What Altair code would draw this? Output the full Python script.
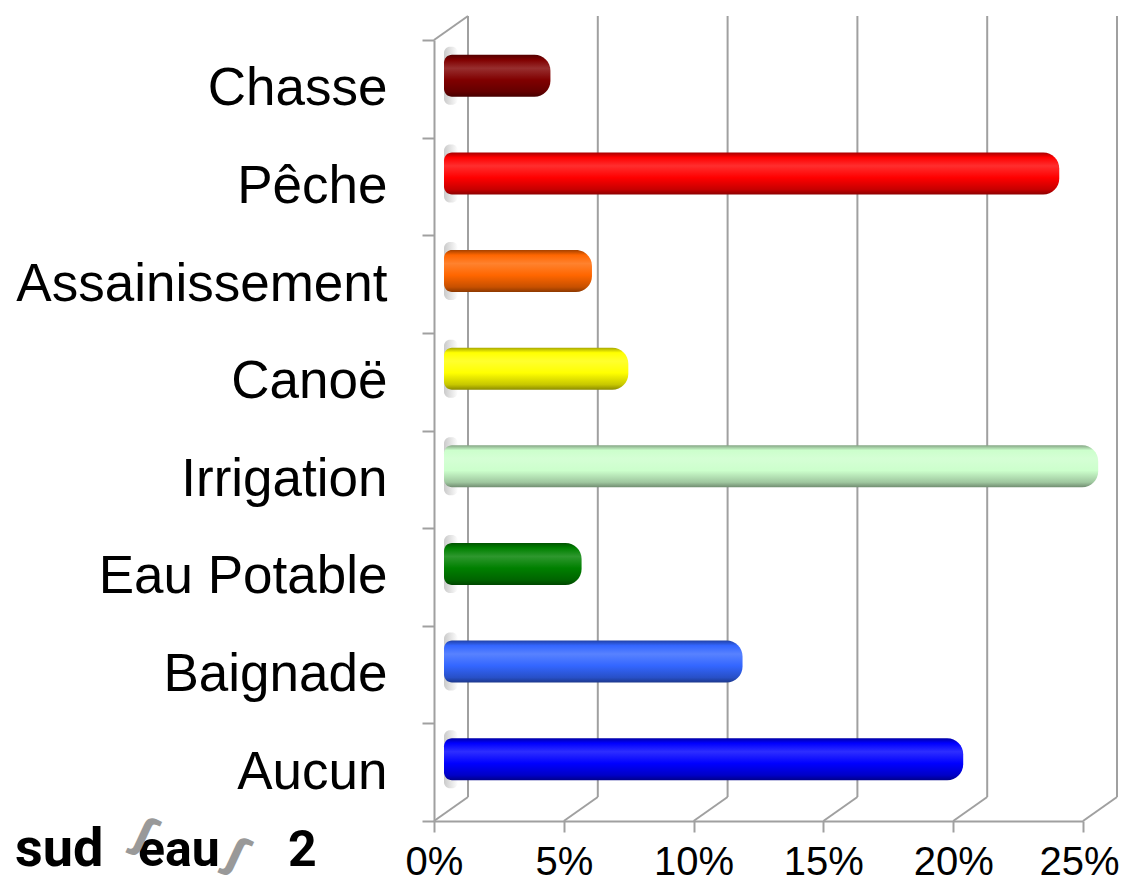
import altair as alt
import pandas as pd

# ---- data ----
categories = ["Chasse", "Pêche", "Assainissement", "Canoë", "Irrigation",
              "Eau Potable", "Baignade", "Aucun"]
values = [4.1, 23.7, 5.7, 7.1, 25.2, 5.3, 11.5, 20.0]
colors = ["#800000", "#ff0000", "#ff6600", "#ffff00", "#ccffcc",
          "#008000", "#3366ff", "#0000ff"]
tick_values = [0, 5, 10, 15, 20, 25]
logo_parts = ["sud", "eau", "2"]
logo_mark = "ʃ"

# ---- geometry / style ----
W, H = 649, 781          # plot area (front plane)
DX, DY = 34, -24         # depth offset of the back wall
BAR_SHIFT = 10           # bars sit slightly behind the front plane
GRID = "#a0a0a0"


def mix(hex_color, target, t):
    h = hex_color.lstrip("#")
    r, g, b = (int(h[i:i + 2], 16) for i in (0, 2, 4))
    tr, tg, tb = target
    r = round(r + (tr - r) * t)
    g = round(g + (tg - g) * t)
    b = round(b + (tb - b) * t)
    return f"#{r:02x}{g:02x}{b:02x}"


def dark(c, t):
    return mix(c, (0, 0, 0), t)


def light(c, t):
    return mix(c, (255, 255, 255), t)


df = pd.DataFrame({"cat": categories, "val": values})
tick_df = pd.DataFrame({"t": tick_values})
one = pd.DataFrame({"k": [0]})

xscale = alt.Scale(domain=[0, 25], nice=False, zero=True)
bar_xscale = alt.Scale(domain=[0, 25], nice=False, zero=True,
                       range=[BAR_SHIFT, W + BAR_SHIFT])
yscale = alt.Scale(domain=categories, paddingInner=0, paddingOuter=0)

x_axis = alt.Axis(values=tick_values, labelExpr="datum.value + '%'", title=None,
                  grid=False, domainColor=GRID, domainWidth=2, tickColor=GRID,
                  tickWidth=2, tickSize=11, labelFontSize=40,
                  labelFont="Liberation Sans", labelColor="#000000",
                  labelPadding=10, labelFlush=False,
                  labelOffset=alt.ExprRef("datum.value == 25 ? -4 : 0"))
y_axis = alt.Axis(title=None, domainColor=GRID, domainWidth=2, tickColor=GRID,
                  tickWidth=2, tickSize=12, tickBand="extent", labelFontSize=53,
                  labelFont="Liberation Sans", labelColor="#000000",
                  labelPadding=35, labelLimit=600, grid=False)

# back wall vertical grid lines (carries the x axis)
grid = alt.Chart(tick_df).mark_rule(color=GRID, strokeWidth=2, xOffset=DX).encode(
    x=alt.X("t:Q", scale=xscale, axis=x_axis),
    y=alt.value(DY), y2=alt.value(H + DY))

# floor diagonals from the front ticks to the back wall
floor = alt.Chart(tick_df).mark_rule(color=GRID, strokeWidth=2, x2Offset=DX).encode(
    x=alt.X("t:Q", scale=xscale, axis=None), x2="t:Q",
    y=alt.value(H), y2=alt.value(H + DY))

# top-left diagonal of the side wall
top_diag = alt.Chart(one).mark_rule(color=GRID, strokeWidth=2).encode(
    x=alt.value(0), x2=alt.value(DX), y=alt.value(0), y2=alt.value(DY))

# soft grey shadow where each cylinder meets the side wall
shadow_grad = alt.Gradient(
    gradient="linear", x1=0, y1=0, x2=1, y2=0,
    stops=[alt.GradientStop(offset=0.0, color="#c4c4c4"),
           alt.GradientStop(offset=1.0, color="#ffffff")])
shadow = alt.Chart(df).mark_bar(
    size=58, yOffset=-13, color=shadow_grad, cornerRadius=6, opacity=0.9
).encode(
    x=alt.value(BAR_SHIFT), x2=alt.value(BAR_SHIFT + 14),
    y=alt.Y("cat:N", scale=yscale, sort=categories, axis=y_axis),
)

layers = [grid, floor, top_diag, shadow]

for cat, col in zip(categories, colors):
    grad = alt.Gradient(
        gradient="linear", x1=0, y1=0, x2=0, y2=1,
        stops=[
            alt.GradientStop(offset=0.0, color=dark(col, 0.35)),
            alt.GradientStop(offset=0.12, color=col),
            alt.GradientStop(offset=0.32, color=light(col, 0.18)),
            alt.GradientStop(offset=0.6, color=col),
            alt.GradientStop(offset=0.88, color=dark(col, 0.22)),
            alt.GradientStop(offset=1.0, color=dark(col, 0.45)),
        ])
    bar = alt.Chart(df).transform_filter(alt.datum.cat == cat).mark_bar(
        size=42, cornerRadiusTopLeft=8, cornerRadiusBottomLeft=8,
        cornerRadiusTopRight=16, cornerRadiusBottomRight=16,
        yOffset=-13, color=grad, strokeWidth=0
    ).encode(
        x=alt.X("val:Q", scale=bar_xscale, axis=None, stack=None),
        y=alt.Y("cat:N", scale=yscale, sort=categories, axis=y_axis),
    )
    layers.append(bar)

# logo "sud eau 2"
logo_x = [-419, -296, -146]
logo_size = [54, 50, 50]
for part, lx, fs in zip(logo_parts, logo_x, logo_size):
    layers.append(alt.Chart(one).mark_text(
        text=part, font="Roboto", fontWeight="bold", fontSize=fs,
        align="left", baseline="alphabetic", color="#000000"
    ).encode(x=alt.value(lx), y=alt.value(826)))

for lx, ly in [(-295, 808), (-203, 828)]:
    layers.append(alt.Chart(one).mark_text(
        text=logo_mark, font="DejaVu Sans", fontWeight="bold", fontSize=44,
        align="center", baseline="alphabetic", color="#999999", angle=25
    ).encode(x=alt.value(lx), y=alt.value(ly)))

chart = alt.layer(*layers).resolve_scale(x="independent").properties(
    width=W, height=H, autosize="none",
    padding={"left": 426, "top": 32, "right": 36, "bottom": 60},
).configure(font="Liberation Sans").configure_view(strokeWidth=0, stroke="transparent")

chart.save("out.html", embed_options={"renderer": "svg", "actions": False})
